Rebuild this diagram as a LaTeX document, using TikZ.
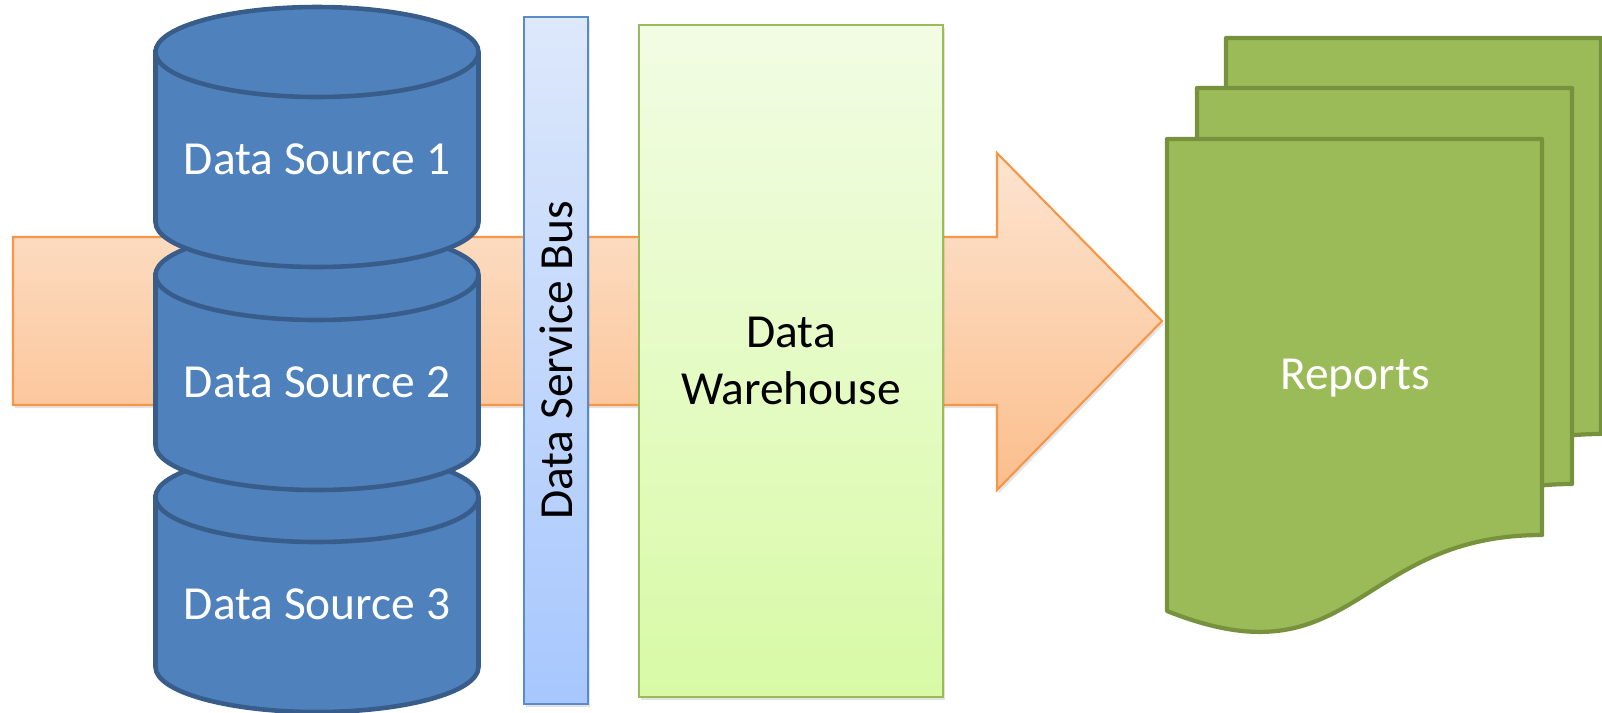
\documentclass[tikz,border=0pt]{standalone}
\usepackage{fontspec}
\setmainfont{Carlito}
\usetikzlibrary{shadows}
\definecolor{dsfill}{HTML}{4F81BD}
\definecolor{dsline}{HTML}{385D8A}
\definecolor{arrowtop}{HTML}{FDE4D0}
\definecolor{arrowbot}{HTML}{FBBE8C}
\definecolor{arrowline}{HTML}{F79646}
\definecolor{bustop}{HTML}{DDE8FB}
\definecolor{busbot}{HTML}{A7C7FD}
\definecolor{busline}{HTML}{5B8AC8}
\definecolor{dwtop}{HTML}{F2FCE4}
\definecolor{dwbot}{HTML}{D8FAA6}
\definecolor{dwline}{HTML}{9BBB59}
\definecolor{repfill}{HTML}{9BBB59}
\definecolor{repline}{HTML}{76923C}
\begin{document}
\begin{tikzpicture}
                [soft/.style={drop shadow={opacity=0.22, shadow xshift=0.6pt, shadow yshift=-0.9pt}},
                 bigarrow/.style={soft, draw=arrowline, line width=0.6pt, top color=arrowtop, bottom color=arrowbot},
                 cyl/.style={draw=dsline, fill=dsfill, line width=1.3pt},
                 bus/.style={soft, draw=busline, line width=0.6pt, top color=bustop, bottom color=busbot, minimum width=0.64cm, minimum height=6.87cm, inner sep=0pt},
                 dw/.style={soft, draw=dwline, line width=0.6pt, top color=dwtop, bottom color=dwbot, minimum width=3.04cm, minimum height=6.72cm, inner sep=0pt, align=center},
                 doc/.style={draw=repline, fill=repfill, line width=1.2pt, line join=round},
                 label/.style={font=\fontsize{13.5}{16.2}\selectfont}]
                \useasboundingbox (0,0) rectangle (16.02,-7.12);
                % Define the arrow behind everything
                \draw[bigarrow] (0.13,-2.37) -- (9.97,-2.37) -- (9.97,-1.53) -- (11.62,-3.21)
                    -- (9.97,-4.90) -- (9.97,-4.05) -- (0.13,-4.05) -- cycle;
                % Define the data sources (back to front)
                \foreach \i/\yt in {3/-4.97, 2/-2.75, 1/-0.52} {
                    \draw[cyl] (1.555,\yt) -- (1.555,\yt-1.70)
                        arc[start angle=180, end angle=360, x radius=1.615, y radius=0.45]
                        -- (4.785,\yt) arc[start angle=0, end angle=180, x radius=1.615, y radius=0.45] -- cycle;
                    \draw[cyl] (1.555,\yt) arc[start angle=180, end angle=360, x radius=1.615, y radius=0.45];
                    \node[label, text=white] (ds\i) at (3.17,\yt-1.07) {Data Source \i};
                }
                % Define the bus and the warehouse
                \node[bus] (bus) at (5.56,-3.605) {};
                \node[label, rotate=90] (buslabel) at (bus.center) {Data Service Bus};
                \node[dw, label] (dw) at (7.91,-3.61) {Data\\Warehouse};
                % Define the reports (back to front)
                \foreach \dx/\dy in {0.59/1.01, 0.30/0.51, 0/0} {
                    \draw[doc, shift={(\dx,\dy)}] (11.67,-1.39) -- (15.42,-1.39) -- (15.42,-5.35)
                        .. controls (13.55,-5.35) and (13.55,-6.86) .. (11.67,-6.11) -- cycle;
                }
                \node[label, text=white] (rep) at (13.55,-3.78) {Reports};
            \end{tikzpicture}
\end{document}
